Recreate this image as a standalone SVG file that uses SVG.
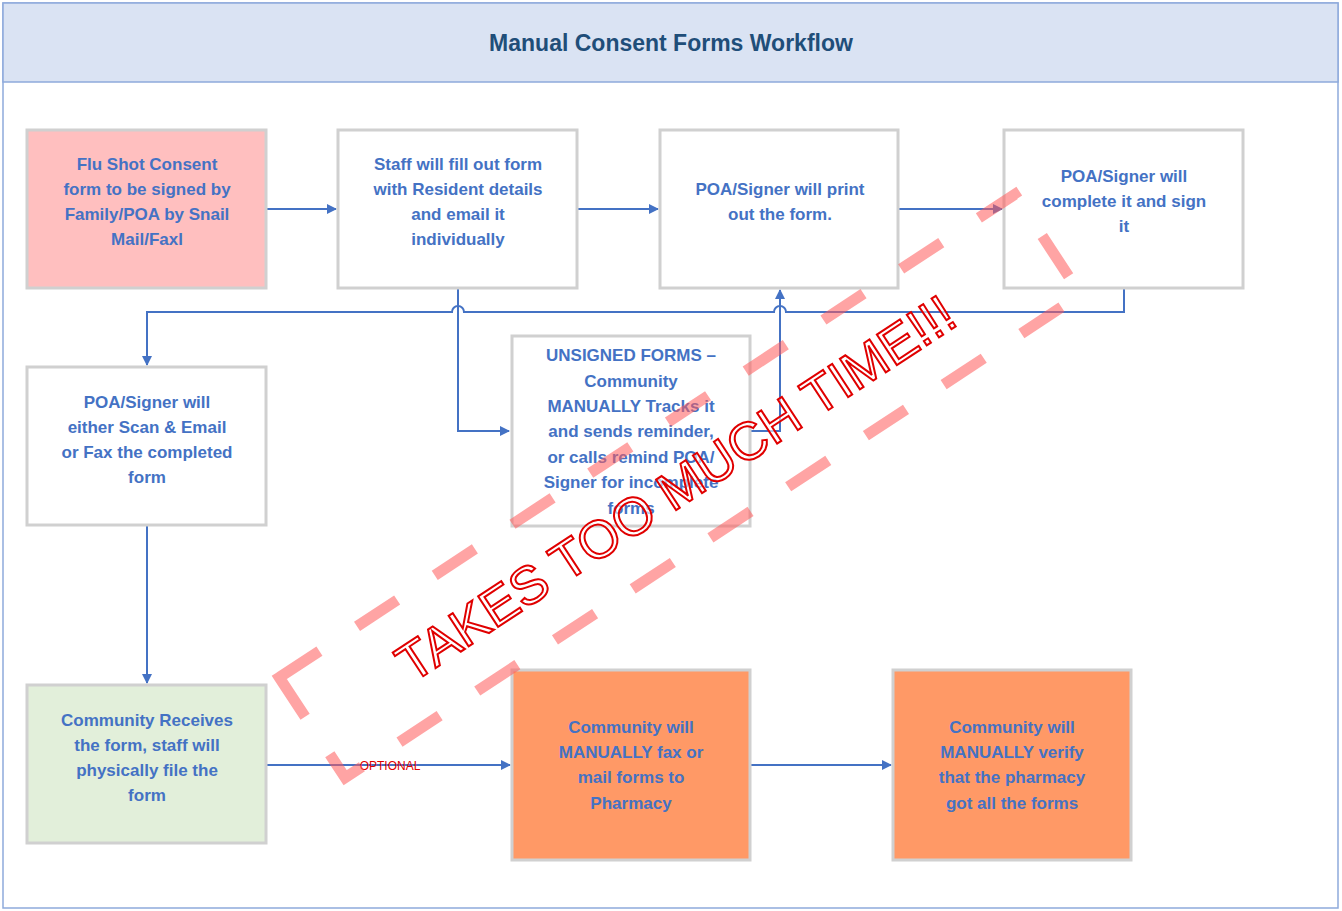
<svg xmlns="http://www.w3.org/2000/svg" width="1342" height="911" viewBox="0 0 1342 911">
<style>
.box{stroke:#d0d0d0;stroke-width:3}
.t{font-family:"Liberation Sans",Arial,sans-serif;font-size:17px;font-weight:bold;fill:#4472c4;text-anchor:middle}
.c{fill:none;stroke:#4472c4;stroke-width:2}
</style>
<defs><marker id="a" markerWidth="10" markerHeight="10" refX="9" refY="5" orient="auto" markerUnits="userSpaceOnUse"><path d="M0,0 L10,5 L0,10 z" fill="#4472c4"/></marker></defs>
<rect x="0" y="0" width="1342" height="911" fill="#fff"/>
<rect x="3" y="3" width="1335" height="905" fill="#fff" stroke="#8eaadb" stroke-width="1.5"/>
<rect x="3" y="3" width="1335" height="79" fill="#dae3f3" stroke="#8eaadb" stroke-width="1.5"/>
<text x="671" y="51" style="font-family:'Liberation Sans',Arial,sans-serif;font-size:23px;font-weight:bold;fill:#1f4e79;text-anchor:middle">Manual Consent Forms Workflow</text>
<g id="connectors">
<path class="c" d="M266,209 H336" marker-end="url(#a)"/>
<path class="c" d="M577,209 H658" marker-end="url(#a)"/>
<path class="c" d="M898,209 H1002" marker-end="url(#a)"/>
<path class="c" d="M1124,288 V312 H786 A6,6 0 0 0 774,312 H464 A6,6 0 0 0 452,312 H147 V365" marker-end="url(#a)"/>
<path class="c" d="M458,288 V431 H509" marker-end="url(#a)"/>
<path class="c" d="M750,431 H780 V290" marker-end="url(#a)"/>
<path class="c" d="M147,525 V683" marker-end="url(#a)"/>
<path class="c" d="M266,765 H510" marker-end="url(#a)"/>
<path class="c" d="M750,765 H891" marker-end="url(#a)"/>
<text x="390" y="770" style="font-family:'Liberation Sans',Arial,sans-serif;font-size:12px;fill:#e00000;text-anchor:middle">OPTIONAL</text>
</g>
<g id="n1"><rect class="box" x="27" y="130" width="239" height="158" fill="#ffbfbf"/>
<text class="t" x="147" y="170">Flu Shot Consent</text><text class="t" x="147" y="195">form to be signed by</text><text class="t" x="147" y="220">Family/POA by Snail</text><text class="t" x="147" y="245">Mail/Faxl</text></g>
<g id="n2"><rect class="box" x="338" y="130" width="239" height="158" fill="#fff"/>
<text class="t" x="458" y="170">Staff will  fill out form</text><text class="t" x="458" y="195">with Resident details</text><text class="t" x="458" y="220">and email it</text><text class="t" x="458" y="245">individually</text></g>
<g id="n3"><rect class="box" x="660" y="130" width="238" height="158" fill="#fff"/>
<text class="t" x="780" y="195">POA/Signer will print</text><text class="t" x="780" y="220">out the form.</text></g>
<g id="n4"><rect class="box" x="1004" y="130" width="239" height="158" fill="#fff"/>
<text class="t" x="1124" y="182">POA/Signer will</text><text class="t" x="1124" y="207">complete it and sign</text><text class="t" x="1124" y="232">it</text></g>
<g id="n5"><rect class="box" x="27" y="367" width="239" height="158" fill="#fff"/>
<text class="t" x="147" y="408">POA/Signer will</text><text class="t" x="147" y="433">either Scan &amp; Email</text><text class="t" x="147" y="458">or Fax the completed</text><text class="t" x="147" y="483">form</text></g>
<g id="n6"><rect class="box" x="512" y="336" width="238" height="190" fill="#fff"/>
<text class="t" x="631" y="361">UNSIGNED FORMS –</text><text class="t" x="631" y="387">Community</text><text class="t" x="631" y="412">MANUALLY Tracks it</text><text class="t" x="631" y="437">and sends reminder,</text><text class="t" x="631" y="463">or calls remind POA/</text><text class="t" x="631" y="488">Signer for incomplete</text><text class="t" x="631" y="514">forms</text></g>
<g id="n7"><rect class="box" x="27" y="685" width="239" height="158" fill="#e2efda"/>
<text class="t" x="147" y="726">Community Receives</text><text class="t" x="147" y="751">the form, staff will</text><text class="t" x="147" y="776">physically file the</text><text class="t" x="147" y="801">form</text></g>
<g id="n8"><rect class="box" x="512" y="670" width="238" height="190" fill="#ff9966"/>
<text class="t" x="631" y="733">Community will</text><text class="t" x="631" y="758">MANUALLY fax or</text><text class="t" x="631" y="783">mail forms to</text><text class="t" x="631" y="809">Pharmacy</text></g>
<g id="n9"><rect class="box" x="893" y="670" width="238" height="190" fill="#ff9966"/>
<text class="t" x="1012" y="733">Community will</text><text class="t" x="1012" y="758">MANUALLY verify</text><text class="t" x="1012" y="783">that the pharmacy</text><text class="t" x="1012" y="809">got all the forms</text></g>
<g id="stamp" transform="translate(680,486) rotate(-33.3)">
<rect x="-440" y="-60" width="880" height="120" fill="none" stroke="#ff5a5a" stroke-opacity="0.55" stroke-width="11" stroke-dasharray="48,45"/>
<text x="-5" y="18" style="font-family:'Liberation Sans',Arial,sans-serif;font-size:53px;fill:#fff;stroke:#e00000;stroke-width:2;text-anchor:middle" fill-opacity="0.6">TAKES TOO MUCH TIME!!!</text>
</g>
</svg>
